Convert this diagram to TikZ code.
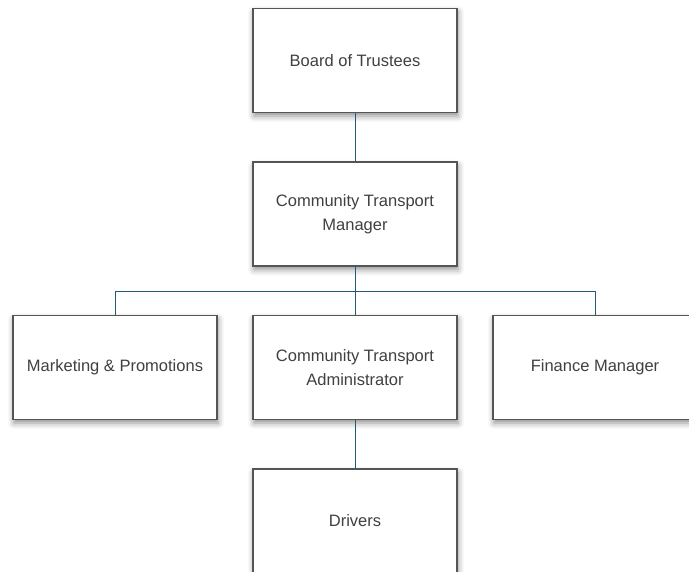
\documentclass[tikz,border=0pt]{standalone}
\usepackage{fontspec}
\setmainfont{Liberation Sans}
\usepackage{xcolor}
\usepackage{tikz}
\usetikzlibrary{positioning, shadows.blur}

\definecolor{boxline}{HTML}{555555}
\definecolor{boxtext}{HTML}{404040}
\definecolor{linkline}{HTML}{1F5A7A}

\begin{document}
\begin{tikzpicture}[x=1pt, y=1pt, node distance=153.5pt]
			\tikzstyle{role} = [rectangle, minimum width=204pt, minimum height=104pt, inner sep=0pt, text centered, align=center, draw=boxline, line width=1.3pt, fill=white, text=boxtext, font=\fontsize{16.5}{24}\selectfont, blur shadow={shadow xshift=1pt, shadow yshift=-3.5pt, shadow blur radius=6pt, shadow opacity=45}]
			\tikzstyle{link} = [line width=1pt, draw=linkline]

			\useasboundingbox (0,0) rectangle (689,-572);

			\node (board) [role] at (355,-60.5) {Board of Trustees};
			\node (manager) [role, below of=board] {Community Transport\\Manager};
			\node (admin) [role, below of=manager] {Community Transport\\Administrator};
			\node (marketing) [role, left of=admin, node distance=240pt] {Marketing \& Promotions};
			\node (finance) [role, right of=admin, node distance=240pt] {Finance Manager};
			\node (drivers) [role, below of=admin] {Drivers};

			\draw [link] (board) -- (manager);
			\draw [link] (manager) -- (admin);
			\draw [link] (manager.south) -- ++(0,-24.5) -| (marketing.north);
			\draw [link] (manager.south) -- ++(0,-24.5) -| (finance.north);
			\draw [link] (admin) -- (drivers);

		\end{tikzpicture}
\end{document}
